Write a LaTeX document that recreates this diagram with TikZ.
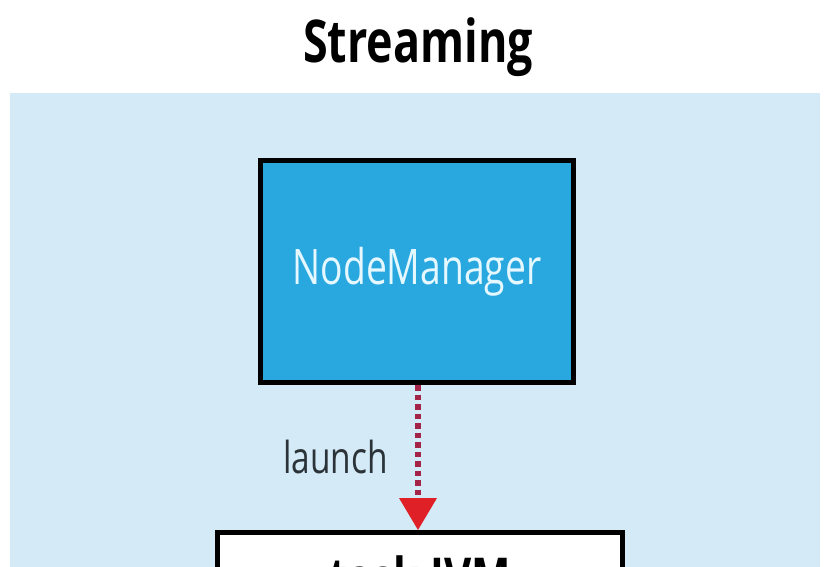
\documentclass[tikz,border=0pt]{standalone}
\usepackage{fontspec}
\setmainfont{Open Sans}
\newfontfamily\condfont[FakeStretch=0.76]{Open Sans}
\usetikzlibrary{arrows.meta}
\definecolor{panelblue}{HTML}{D4EBF7}
\definecolor{boxblue}{HTML}{29A8E0}
\definecolor{nmtext}{HTML}{E6F8FF}
\definecolor{dotred}{HTML}{A32446}
\definecolor{tipred}{HTML}{E02027}
\definecolor{labelgray}{HTML}{2B3338}
\tikzset{
  box/.style={draw=black, line width=5pt, inner sep=0pt},
  launcharrow/.style={dotred, line width=5.5pt, dash pattern=on 5.5pt off 4pt,
    -{Triangle[width=38pt,length=32pt,line width=0pt,color=tipred]}}
}
\begin{document}
\begin{tikzpicture}[x=1pt,y=-1pt]
\useasboundingbox (0,0) rectangle (828,567);
\clip (0,0) rectangle (828,567);
\fill[panelblue] (10,93) rectangle (820,600);
\node[font=\condfont\bfseries\fontsize{59}{64}\selectfont, anchor=base, inner sep=0pt] (title) at (418,63) {Streaming};
\node[box, fill=boxblue, minimum width=313pt, minimum height=222pt, text=nmtext,
      font=\condfont\fontsize{49}{54}\selectfont] (nm) at (417,271.5) {NodeManager};
\node[box, fill=white, minimum width=405pt, minimum height=99pt,
      font=\condfont\bfseries\fontsize{55}{60}\selectfont] (jvm) at (420,582) {task JVM};
\coordinate (ax) at (418,0);
\draw[launcharrow] (nm.south -| ax) -- (jvm.north -| ax);
\node[anchor=base east, inner sep=0pt, text=labelgray, font=\condfont\fontsize{44}{50}\selectfont] (lbl) at (388,473) {launch};
\end{tikzpicture}
\end{document}
